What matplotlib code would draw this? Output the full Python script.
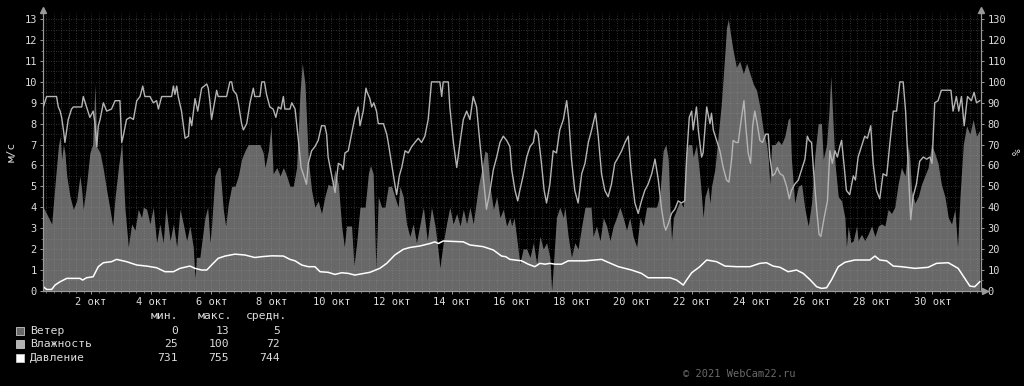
#!/usr/bin/env python3

import matplotlib.pyplot as plt
from matplotlib.ticker import MultipleLocator, FixedLocator
from matplotlib.patches import Rectangle

# time axis: days since 1 Oct 00:00

# wind, m/s (left axis)
wind_t = [
    0.41, 0.69, 0.80, 0.91, 0.97, 1.02, 1.08, 1.13, 1.19, 1.30,
    1.41, 1.52, 1.63, 1.69, 1.74, 1.85, 1.96, 2.05, 2.13, 2.19,
    2.30, 2.41, 2.52, 2.63, 2.72, 2.80, 2.91, 3.02, 3.13, 3.24,
    3.35, 3.46, 3.57, 3.68, 3.74, 3.85, 3.96, 4.07, 4.18, 4.29,
    4.40, 4.49, 4.63, 4.74, 4.85, 4.96, 5.07, 5.18, 5.29, 5.40,
    5.46, 5.51, 5.62, 5.79, 5.88, 5.96, 6.01, 6.12, 6.23, 6.29,
    6.40, 6.48, 6.57, 6.68, 6.79, 6.90, 7.01, 7.12, 7.23, 7.62,
    7.73, 7.79, 7.90, 7.99, 8.06, 8.18, 8.29, 8.40, 8.51, 8.62,
    8.73, 8.84, 8.95, 9.03, 9.12, 9.23, 9.34, 9.45, 9.56, 9.67,
    9.78, 9.89, 10.01, 10.12, 10.23, 10.34, 10.43, 10.50, 10.67, 10.75,
    10.84, 10.95, 11.12, 11.23, 11.30, 11.39, 11.48, 11.56, 11.67, 11.78,
    11.89, 12.00, 12.11, 12.22, 12.28, 12.39, 12.50, 12.61, 12.72, 12.83,
    12.95, 13.06, 13.19, 13.33, 13.45, 13.56, 13.61, 13.72, 13.83, 13.94,
    14.05, 14.17, 14.28, 14.39, 14.50, 14.61, 14.72, 14.89, 15.00, 15.11,
    15.19, 15.28, 15.39, 15.50, 15.61, 15.72, 15.83, 15.94, 16.00, 16.08,
    16.16, 16.27, 16.38, 16.50, 16.61, 16.72, 16.83, 16.94, 17.05, 17.16,
    17.27, 17.33, 17.42, 17.49, 17.60, 17.72, 17.77, 17.88, 17.99, 18.10,
    18.21, 18.33, 18.44, 18.64, 18.71, 18.82, 18.94, 19.05, 19.16, 19.27,
    19.38, 19.49, 19.60, 19.71, 19.82, 19.93, 20.04, 20.16, 20.27, 20.38,
    20.49, 20.82, 20.93, 21.04, 21.13, 21.21, 21.27, 21.32, 21.38, 21.49,
    21.60, 21.71, 21.80, 21.88, 21.99, 22.04, 22.15, 22.26, 22.32, 22.37,
    22.43, 22.54, 22.60, 22.65, 22.76, 22.87, 22.98, 23.10, 23.15, 23.21,
    23.26, 23.37, 23.48, 23.59, 23.71, 23.82, 23.93, 24.04, 24.15, 24.26,
    24.37, 24.48, 24.54, 24.59, 24.65, 24.76, 24.87, 24.98, 25.09, 25.20,
    25.26, 25.31, 25.42, 25.54, 25.65, 25.76, 25.87, 25.98, 26.09, 26.20,
    26.31, 26.37, 26.48, 26.56, 26.62, 26.70, 26.76, 26.87, 26.98, 27.09,
    27.14, 27.20, 27.29, 27.37, 27.48, 27.53, 27.64, 27.75, 27.86, 27.98,
    28.09, 28.20, 28.31, 28.42, 28.53, 28.64, 28.75, 28.86, 28.97, 29.09,
    29.20, 29.25, 29.31, 29.42, 29.53, 29.64, 29.75, 29.86, 29.97, 30.08,
    30.19, 30.30, 30.42, 30.53, 30.64, 30.75, 30.84, 30.92, 31.03, 31.14,
    31.25, 31.36, 31.47, 31.58,
]
wind_v = [
    4.0, 3.2, 5.1, 6.9, 7.4, 6.3, 7.0, 6.6, 5.5, 4.5,
    3.9, 4.3, 5.5, 4.8, 3.9, 5.1, 6.6, 7.0, 9.9, 6.9,
    6.6, 5.8, 4.8, 3.9, 3.1, 4.5, 5.9, 7.1, 3.9, 2.1,
    3.2, 2.9, 3.9, 3.5, 4.0, 3.9, 3.2, 4.0, 2.3, 3.2,
    2.3, 4.0, 2.4, 3.2, 2.1, 3.9, 3.2, 2.4, 3.1, 2.1,
    0.6, 1.6, 1.6, 3.5, 4.0, 2.3, 3.1, 5.5, 5.9, 5.9,
    3.9, 3.1, 4.2, 5.0, 5.0, 5.5, 6.3, 6.7, 7.0, 7.0,
    6.6, 5.9, 6.7, 7.9, 5.6, 5.9, 5.5, 5.9, 5.5, 5.0,
    5.0, 5.9, 9.4, 10.9, 9.9, 6.3, 4.8, 4.0, 4.3, 3.7,
    4.5, 5.1, 5.0, 5.8, 5.1, 3.1, 2.1, 3.1, 3.1, 1.2,
    2.3, 4.0, 4.0, 5.6, 6.0, 5.6, 1.0, 4.5, 4.0, 4.0,
    5.0, 5.0, 4.5, 4.0, 5.0, 4.5, 3.2, 2.6, 3.2, 2.3,
    3.2, 4.0, 2.4, 4.0, 3.1, 1.8, 1.1, 2.3, 3.2, 4.0,
    3.2, 3.7, 3.1, 3.9, 3.2, 4.0, 3.2, 5.0, 5.8, 6.7,
    6.6, 5.0, 3.9, 4.5, 3.5, 3.9, 3.1, 3.5, 3.1, 3.5,
    2.6, 1.3, 2.0, 2.0, 1.6, 2.3, 1.3, 2.6, 2.0, 2.3,
    1.6, 0.0, 2.0, 3.5, 4.0, 3.5, 4.0, 2.6, 1.6, 2.3,
    2.0, 3.1, 4.0, 4.0, 2.6, 3.1, 2.4, 3.5, 3.1, 2.4,
    3.1, 3.5, 4.0, 3.5, 2.9, 3.5, 2.6, 2.1, 3.5, 3.1,
    4.0, 4.0, 4.6, 6.7, 7.0, 6.3, 3.9, 2.4, 3.5, 3.9,
    4.3, 4.0, 6.6, 7.0, 7.0, 6.4, 7.0, 5.5, 4.5, 3.5,
    4.5, 5.0, 4.2, 5.0, 5.8, 7.4, 9.0, 11.5, 12.6, 13.0,
    12.5, 11.5, 10.7, 11.0, 10.4, 10.9, 10.4, 9.9, 9.6, 8.8,
    7.7, 7.0, 6.3, 5.1, 7.0, 7.0, 7.2, 7.0, 7.4, 8.2,
    8.3, 6.3, 4.2, 5.0, 5.1, 3.9, 3.1, 4.2, 6.5, 8.0,
    8.0, 6.3, 7.0, 8.6, 10.3, 7.9, 6.1, 4.5, 4.3, 3.5,
    2.1, 3.1, 2.3, 2.4, 3.1, 2.4, 2.7, 2.4, 2.7, 3.1,
    2.6, 3.1, 3.2, 3.1, 3.9, 3.7, 4.0, 5.1, 5.9, 5.5,
    7.0, 6.3, 4.8, 4.2, 4.5, 5.1, 5.5, 5.9, 7.0, 6.6,
    6.1, 5.1, 4.5, 3.5, 3.2, 3.9, 2.1, 4.5, 7.0, 7.9,
    7.5, 8.2, 7.4, 7.7,
]

# humidity, % (right axis)
hum_t = [
    0.41, 0.52, 0.85, 0.91, 0.97, 1.02, 1.08, 1.13, 1.24, 1.35,
    1.41, 1.69, 1.74, 1.85, 1.96, 2.07, 2.13, 2.19, 2.24, 2.30,
    2.41, 2.52, 2.68, 2.80, 2.96, 3.02, 3.07, 3.18, 3.30, 3.41,
    3.52, 3.63, 3.72, 3.79, 3.96, 4.07, 4.18, 4.24, 4.35, 4.68,
    4.74, 4.79, 4.85, 4.90, 5.01, 5.13, 5.24, 5.29, 5.35, 5.46,
    5.55, 5.68, 5.85, 5.90, 5.96, 6.01, 6.12, 6.18, 6.23, 6.51,
    6.62, 6.68, 6.73, 6.84, 6.90, 7.01, 7.07, 7.18, 7.29, 7.40,
    7.45, 7.62, 7.68, 7.77, 7.84, 7.95, 8.06, 8.15, 8.23, 8.32,
    8.40, 8.45, 8.62, 8.68, 8.79, 8.90, 8.99, 9.06, 9.17, 9.23,
    9.34, 9.45, 9.56, 9.67, 9.78, 9.84, 9.89, 10.01, 10.12, 10.23,
    10.34, 10.39, 10.45, 10.56, 10.67, 10.78, 10.89, 10.95, 11.06, 11.15,
    11.19, 11.28, 11.34, 11.41, 11.50, 11.56, 11.73, 11.84, 11.89, 12.00,
    12.11, 12.17, 12.26, 12.34, 12.45, 12.56, 12.67, 12.78, 12.89, 13.00,
    13.11, 13.22, 13.33, 13.61, 13.67, 13.72, 13.89, 13.94, 14.06, 14.17,
    14.28, 14.39, 14.50, 14.61, 14.72, 14.83, 14.94, 15.05, 15.16, 15.28,
    15.39, 15.50, 15.61, 15.72, 15.83, 15.94, 16.00, 16.11, 16.20, 16.27,
    16.38, 16.50, 16.61, 16.72, 16.79, 16.88, 16.99, 17.08, 17.16, 17.27,
    17.38, 17.49, 17.60, 17.72, 17.83, 17.90, 17.99, 18.10, 18.21, 18.33,
    18.44, 18.55, 18.66, 18.79, 18.88, 18.99, 19.10, 19.21, 19.32, 19.43,
    19.55, 19.66, 19.77, 19.88, 19.97, 20.10, 20.21, 20.32, 20.43, 20.54,
    20.66, 20.77, 20.88, 20.99, 21.08, 21.13, 21.21, 21.32, 21.43, 21.54,
    21.65, 21.76, 21.82, 21.91, 21.99, 22.04, 22.15, 22.21, 22.32, 22.37,
    22.49, 22.60, 22.65, 22.71, 22.82, 22.93, 23.04, 23.15, 23.23, 23.32,
    23.37, 23.46, 23.54, 23.65, 23.73, 23.79, 23.87, 23.95, 24.02, 24.09,
    24.17, 24.26, 24.35, 24.46, 24.54, 24.59, 24.68, 24.76, 24.84, 24.93,
    25.04, 25.15, 25.24, 25.31, 25.42, 25.54, 25.65, 25.76, 25.84, 25.90,
    25.98, 26.06, 26.15, 26.23, 26.29, 26.40, 26.51, 26.59, 26.67, 26.76,
    26.84, 26.92, 26.98, 27.07, 27.14, 27.25, 27.37, 27.44, 27.53, 27.64,
    27.75, 27.84, 27.95, 28.03, 28.14, 28.25, 28.36, 28.48, 28.59, 28.70,
    28.81, 28.92, 29.03, 29.11, 29.20, 29.28, 29.36, 29.47, 29.58, 29.70,
    29.81, 29.92, 29.99, 30.08, 30.19, 30.30, 30.62, 30.69, 30.80, 30.88,
    30.97, 31.06, 31.17, 31.30, 31.39, 31.47, 31.58,
]
hum_v = [
    88, 93, 93, 88, 86, 83, 77, 71, 82, 87,
    88, 88, 93, 88, 83, 86, 80, 69, 79, 82,
    90, 86, 87, 91, 91, 71, 74, 82, 83, 82,
    91, 93, 98, 93, 93, 90, 91, 87, 93, 93,
    98, 94, 98, 93, 86, 73, 74, 83, 79, 92,
    86, 97, 99, 97, 90, 82, 91, 96, 93, 93,
    100, 100, 96, 94, 90, 80, 77, 80, 90, 97,
    93, 93, 100, 100, 94, 88, 87, 83, 88, 87,
    93, 87, 87, 90, 87, 72, 59, 56, 51, 61,
    67, 69, 72, 79, 79, 75, 64, 55, 47, 61,
    60, 58, 66, 67, 75, 83, 88, 79, 86, 97,
    95, 92, 88, 90, 86, 80, 80, 75, 71, 61,
    51, 46, 55, 59, 67, 66, 69, 71, 73, 71,
    74, 82, 100, 100, 93, 100, 100, 88, 71, 59,
    71, 82, 86, 82, 93, 88, 71, 55, 39, 48,
    58, 64, 71, 74, 72, 69, 58, 48, 43, 48,
    55, 64, 69, 71, 77, 75, 61, 48, 42, 51,
    67, 66, 77, 82, 91, 82, 63, 48, 42, 56,
    61, 71, 77, 85, 74, 56, 48, 45, 51, 61,
    64, 67, 71, 74, 58, 42, 37, 43, 48, 51,
    56, 63, 53, 39, 31, 29, 32, 37, 39, 43,
    42, 43, 63, 83, 86, 77, 88, 77, 64, 66,
    88, 80, 85, 77, 72, 67, 59, 53, 52, 63,
    72, 71, 71, 83, 91, 79, 66, 61, 79, 86,
    80, 72, 71, 75, 75, 64, 55, 56, 59, 56,
    55, 50, 44, 48, 51, 53, 58, 63, 74, 72,
    71, 55, 39, 27, 26, 35, 43, 67, 61, 67,
    64, 69, 72, 59, 48, 46, 55, 53, 64, 69,
    74, 73, 79, 61, 48, 44, 56, 55, 71, 86,
    86, 100, 100, 86, 58, 34, 45, 51, 62, 64,
    63, 64, 61, 90, 91, 96, 96, 86, 93, 86,
    93, 79, 93, 91, 95, 90, 91,
]

# pressure, already scaled onto the m/s axis as the original graph does
pres_t = [
    0.41, 0.52, 0.69, 0.80, 0.97, 1.08, 1.19, 1.63, 1.72, 1.85,
    2.07, 2.24, 2.41, 2.68, 2.85, 3.18, 3.52, 3.85, 4.18, 4.46,
    4.74, 4.96, 5.29, 5.46, 5.68, 5.85, 6.01, 6.23, 6.46, 6.79,
    7.12, 7.45, 7.68, 8.01, 8.40, 8.62, 8.79, 9.01, 9.23, 9.45,
    9.62, 9.89, 10.12, 10.34, 10.56, 10.78, 11.28, 11.61, 11.84, 12.11,
    12.39, 12.61, 12.94, 13.28, 13.44, 13.56, 13.72, 14.39, 14.61, 14.89,
    15.05, 15.39, 15.66, 15.80, 15.94, 16.33, 16.55, 16.77, 16.94, 17.11,
    17.27, 17.44, 17.66, 17.88, 18.44, 18.99, 19.21, 19.55, 19.99, 20.32,
    20.54, 21.27, 21.49, 21.71, 21.82, 21.99, 22.26, 22.49, 22.82, 23.10,
    23.48, 23.93, 24.26, 24.48, 24.70, 24.93, 25.20, 25.48, 25.70, 25.92,
    26.15, 26.31, 26.48, 26.64, 26.87, 27.09, 27.42, 27.92, 28.09, 28.25,
    28.48, 28.70, 28.97, 29.42, 29.86, 30.14, 30.53, 30.86, 31.08, 31.25,
    31.41, 31.58,
]
pres_v = [
    0.19, 0.06, 0.06, 0.27, 0.43, 0.51, 0.59, 0.59, 0.51, 0.62,
    0.67, 1.15, 1.34, 1.39, 1.50, 1.39, 1.23, 1.18, 1.10, 0.91,
    0.91, 1.07, 1.18, 1.07, 0.99, 0.99, 1.23, 1.55, 1.66, 1.75,
    1.71, 1.59, 1.63, 1.67, 1.66, 1.50, 1.43, 1.23, 1.15, 1.15,
    0.91, 0.88, 0.78, 0.86, 0.83, 0.75, 0.88, 1.07, 1.31, 1.71,
    1.98, 2.07, 2.14, 2.26, 2.34, 2.26, 2.38, 2.34, 2.19, 2.14,
    2.11, 1.95, 1.66, 1.63, 1.50, 1.43, 1.27, 1.15, 1.31, 1.27,
    1.31, 1.27, 1.27, 1.43, 1.43, 1.50, 1.36, 1.15, 0.99, 0.83,
    0.62, 0.62, 0.51, 0.27, 0.51, 0.86, 1.15, 1.47, 1.39, 1.18,
    1.15, 1.15, 1.31, 1.34, 1.18, 1.12, 0.91, 0.99, 0.83, 0.54,
    0.19, 0.11, 0.14, 0.51, 1.15, 1.36, 1.47, 1.47, 1.66, 1.47,
    1.43, 1.18, 1.15, 1.07, 1.12, 1.31, 1.34, 1.07, 0.59, 0.22,
    0.19, 0.43,
]

legend_names = ['Ветер', 'Влажность', 'Давление']
legend_min = [0, 25, 731]
legend_max = [13, 100, 755]
legend_avg = [5, 72, 744]

day_ticks = list(range(2, 31, 2))
day_labels = ['%d окт' % d for d in day_ticks]

W, H = 1024, 386
MONO = 'DejaVu Sans Mono'
c_wind = '#686868'
c_hum = '#b4b4b4'
c_pres = '#ffffff'
c_axis = '#9a9a9a'
c_text = '#dcdcdc'

fig = plt.figure(figsize=(W / 100, H / 100), dpi=100, facecolor='black')
ax = fig.add_axes([43 / W, 1 - 290.7 / H, (981 - 43) / W, (290.7 - 13) / H])
ax.set_facecolor('black')
ax.set_xlim(0.40, 31.62)
ax.set_ylim(0, 13.3)

ax.fill_between(wind_t, 0, wind_v, color=c_wind, linewidth=0, zorder=1)
ax.plot(pres_t, pres_v, color=c_pres, linewidth=1.1, zorder=4)

ax2 = ax.twinx()
ax2.set_ylim(0, 133)
ax2.plot(hum_t, hum_v, color=c_hum, linewidth=1.0, zorder=3)

# grid on top of the area, like rrdtool
ax.set_axisbelow(False)
ax.xaxis.set_major_locator(FixedLocator(day_ticks))
ax.set_xticklabels(day_labels)
ax.xaxis.set_minor_locator(MultipleLocator(0.25))
ax.yaxis.set_major_locator(MultipleLocator(1))
ax.yaxis.set_minor_locator(MultipleLocator(0.5))
ax2.yaxis.set_major_locator(MultipleLocator(10))
ax2.yaxis.set_minor_locator(MultipleLocator(5))
for which in ('major', 'minor'):
    ax.grid(True, which=which, color='#a0a0a0', alpha=0.4,
            linestyle=(0, (1, 2)), linewidth=0.6)

for a in (ax, ax2):
    a.tick_params(which='major', colors=c_axis, labelcolor=c_text,
                  labelsize=7.5, length=2.5, width=0.7, pad=2)
    a.tick_params(which='minor', colors=c_axis, length=1.5, width=0.5)
    for lab in a.get_xticklabels() + a.get_yticklabels():
        lab.set_family(MONO)
    for s in a.spines.values():
        s.set_color(c_axis)
        s.set_linewidth(0.8)
    a.spines['top'].set_visible(False)

# axis arrows
ax.plot([0], [1.01], marker='^', markersize=4, color=c_axis,
        transform=ax.transAxes, clip_on=False, zorder=6)
ax.plot([1], [1.01], marker='^', markersize=4, color=c_axis,
        transform=ax.transAxes, clip_on=False, zorder=6)
ax.plot([1.004], [0], marker='>', markersize=4, color=c_axis,
        transform=ax.transAxes, clip_on=False, zorder=6)

fig.text(12 / W, 1 - 152 / H, 'м/с', rotation=90, color=c_text, fontsize=8,
         family=MONO, ha='center', va='center')
fig.text(1018 / W, 1 - 152 / H, '%', rotation=90, color=c_text, fontsize=8,
         family=MONO, ha='center', va='center')

# legend table
fs = 8.2
for txt, xr in zip(['мин.', 'макс.', 'средн.'], [178, 232, 287]):
    fig.text(xr / W, 1 - 316 / H, txt, color=c_text, fontsize=fs,
             family=MONO, ha='right', va='center')
row_y = [330.7, 344.3, 358]
swatch = [c_wind, c_hum, c_pres]
for i, name in enumerate(legend_names):
    y = row_y[i]
    fig.patches.append(Rectangle((16 / W, 1 - (y + 4) / H), 8 / W, 8 / H,
                                 transform=fig.transFigure, facecolor=swatch[i],
                                 edgecolor='#c8c8c8', linewidth=0.6))
    fig.text(30 / W, 1 - y / H, name, color=c_text, fontsize=fs,
             family=MONO, ha='left', va='center')
    for val, xr in zip([legend_min[i], legend_max[i], legend_avg[i]],
                       [178, 229, 280]):
        fig.text(xr / W, 1 - y / H, str(val), color=c_text, fontsize=fs,
                 family=MONO, ha='right', va='center')

fig.text(683 / W, 1 - 374 / H, '© 2021 WebCam22.ru', color='#6a6a6a',
         fontsize=7.5, family=MONO, ha='left', va='center')

fig.savefig('out.png', dpi=100, facecolor='black')
